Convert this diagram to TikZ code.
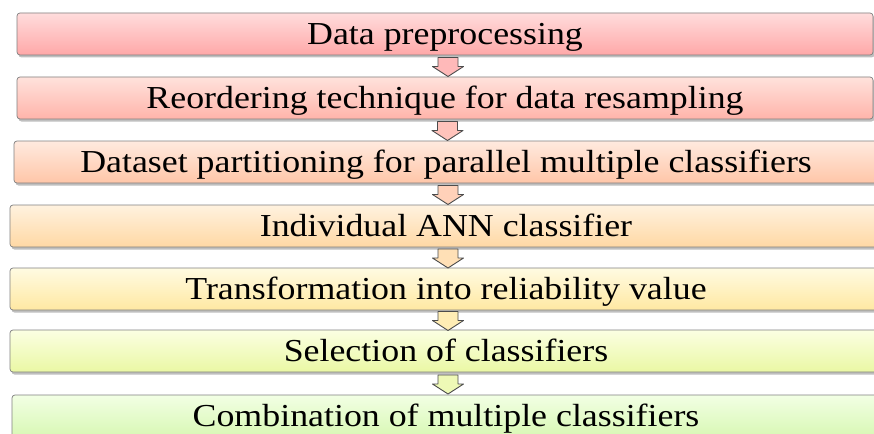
\documentclass[tikz,border=0pt]{standalone}
\usepackage{fontspec}
\setmainfont[FakeStretch=1.12]{Liberation Serif}
\usetikzlibrary{shadows,calc}
\definecolor{rA1}{HTML}{FFDCDC}\definecolor{rA2}{HTML}{FFA8A8}
\definecolor{rB1}{HTML}{FFE2DC}\definecolor{rB2}{HTML}{FFB4AA}
\definecolor{rC1}{HTML}{FFEADF}\definecolor{rC2}{HTML}{FFC6A8}
\definecolor{rD1}{HTML}{FFF2DF}\definecolor{rD2}{HTML}{FFD8A4}
\definecolor{rE1}{HTML}{FFFBE2}\definecolor{rE2}{HTML}{FFE8A2}
\definecolor{rF1}{HTML}{FBFFE2}\definecolor{rF2}{HTML}{EAF8A4}
\definecolor{rG1}{HTML}{F2FFE4}\definecolor{rG2}{HTML}{D8F8B4}
\begin{document}
\begin{tikzpicture}[x=1pt,y=-1pt,
  stagebox/.style={draw=black!50, line width=0.7pt, rounded corners=3pt,
    inner sep=0pt, minimum height=42pt, text height=28pt, text depth=7pt,
    font=\fontsize{32}{36}\selectfont,
    drop shadow={shadow xshift=1.5pt, shadow yshift=-2.5pt, opacity=0.5}},
  flowarrow/.style={draw=black!70, line width=0.9pt, line join=round},
  pics/downarr/.style={code={
    \path[pic actions] (-10,-9.5) -- (10,-9.5) -- (10,-0.5) -- (15.5,-0.5)
      -- (0,9.5) -- (-15.5,-0.5) -- (-10,-0.5) -- cycle;}}]
\useasboundingbox (0,0) rectangle (874,433);
\fill[white] (0,0) rectangle (874,433);
\node[stagebox, top color=rA1, bottom color=rA2, minimum width=856pt] (b1) at (445,34) {Data preprocessing};
\node[stagebox, top color=rB1, bottom color=rB2, minimum width=856pt] (b2) at (445,98) {Reordering technique for data resampling};
\node[stagebox, top color=rC1, bottom color=rC2, minimum width=864pt] (b3) at (446,162) {Dataset partitioning for parallel multiple classifiers};
\node[stagebox, top color=rD1, bottom color=rD2, minimum width=872pt] (b4) at (446,226) {Individual ANN classifier};
\node[stagebox, top color=rE1, bottom color=rE2, minimum width=872pt] (b5) at (446,289) {Transformation into reliability value};
\node[stagebox, top color=rF1, bottom color=rF2, minimum width=872pt] (b6) at (446,351) {Selection of classifiers};
\node[stagebox, top color=rG1, bottom color=rG2, minimum width=868pt] (b7) at (446,416) {Combination of multiple classifiers};
\pic[flowarrow, fill=rA2!80] (a1) at ($(b1.south)!0.5!(b2.north)+(3,1)$) {downarr};
\pic[flowarrow, fill=rB2!80] (a2) at ($(b2.south)!0.5!(b3.north)+(2,1)$) {downarr};
\pic[flowarrow, fill=rC2!80] (a3) at ($(b3.south)!0.5!(b4.north)+(2,1)$) {downarr};
\pic[flowarrow, fill=rD2!80] (a4) at ($(b4.south)!0.5!(b5.north)+(2,1)$) {downarr};
\pic[flowarrow, fill=rE2!80] (a5) at ($(b5.south)!0.5!(b6.north)+(2,1)$) {downarr};
\pic[flowarrow, fill=rF2!80] (a6) at ($(b6.south)!0.5!(b7.north)+(2,1)$) {downarr};
\end{tikzpicture}
\end{document}
